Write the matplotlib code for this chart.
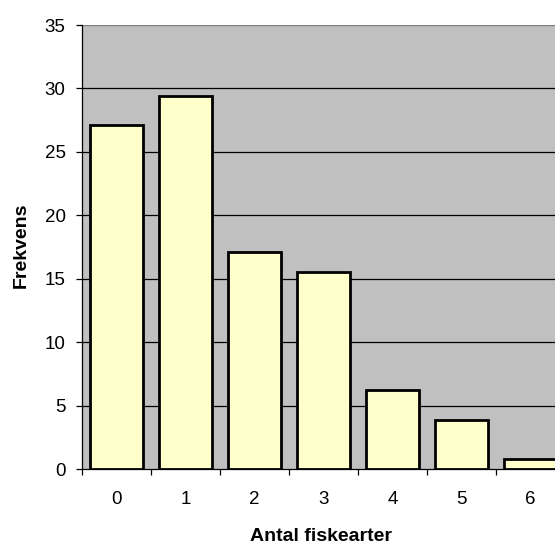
import matplotlib.pyplot as plt
import numpy as np

plt.rcParams['font.family'] = ['Liberation Sans', 'DejaVu Sans']

antal = [0, 1, 2, 3, 4, 5, 6]
frekvens = [27.1, 29.4, 17.1, 15.5, 6.2, 3.9, 0.8]
yticks = [0, 5, 10, 15, 20, 25, 30, 35]

W, H = 555, 545
fig = plt.figure(figsize=(W / 100, H / 100), dpi=100)
ax = fig.add_axes([82 / W, 76 / H, 483 / W, 444 / H])
ax.set_facecolor('#c0c0c0')

x = np.arange(len(antal))
ax.bar(x, frekvens, width=0.78, color='#ffffcc', edgecolor='black', linewidth=2, zorder=3)

ax.set_xlim(-0.5, 6.5)
ax.set_ylim(0, 35)
ax.set_yticks(yticks)
ax.set_yticklabels([str(v) for v in yticks], fontsize=13.5)
for v in yticks[1:-1]:
    ax.axhline(v, color='black', linewidth=0.9, zorder=1)

# category labels on minor ticks, separator marks on major ticks
ax.set_xticks(np.arange(-0.5, 7.0, 1.0))
ax.set_xticklabels([])
ax.set_xticks(x, minor=True)
ax.set_xticklabels([str(a) for a in antal], minor=True, fontsize=13.5)
ax.tick_params(axis='x', which='minor', length=0, pad=15.5)
ax.tick_params(axis='x', which='major', length=4, width=0.9, direction='out')
ax.tick_params(axis='y', length=4.3, width=0.9, direction='out', pad=7.5)

for s in ['top', 'right']:
    ax.spines[s].set_visible(False)
ax.spines['left'].set_linewidth(0.9)
ax.spines['bottom'].set_linewidth(0.9)
ax.axhline(35, color='#808080', linewidth=1, zorder=1)

fig.text(321 / W, (H - 541) / H, 'Antal fiskearter', fontsize=14, fontweight='bold',
         ha='center', va='baseline')
fig.text(26 / W, (H - 245) / H, 'Frekvens', fontsize=14, fontweight='bold',
         rotation=90, rotation_mode='anchor', ha='center', va='baseline')

fig.savefig('out.png', dpi=100)
